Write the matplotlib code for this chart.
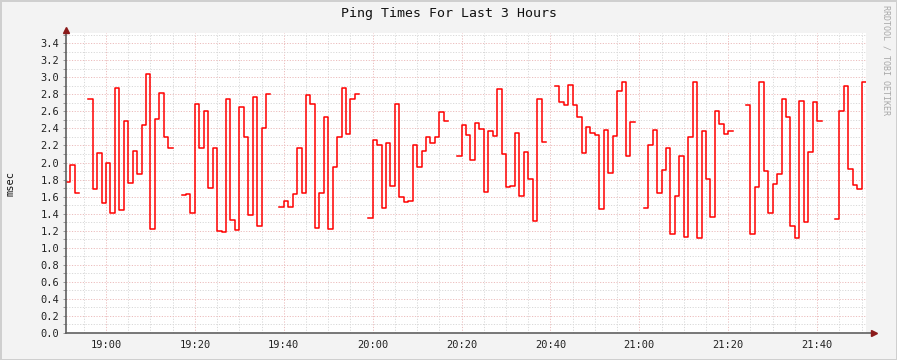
import matplotlib
matplotlib.use("Agg")
import matplotlib.pyplot as plt
import numpy as np

nan = np.nan

# one value per minute, starting 18:51
ping_msec = [
    1.77, 1.97, 1.64, nan, nan, 2.75, 1.69, 2.11, 1.53, 2.00,
    1.41, 2.88, 1.44, 2.49, 1.76, 2.13, 1.86, 2.44, 3.04, 1.22,
    2.51, 2.82, 2.30, 2.17, nan, nan, 1.62, 1.63, 1.41, 2.69,
    2.17, 2.61, 1.70, 2.17, 1.20, 1.19, 2.75, 1.33, 1.21, 2.65,
    2.30, 1.39, 2.77, 1.25, 2.41, 2.81, nan, nan, 1.48, 1.55,
    1.48, 1.63, 2.17, 1.64, 2.79, 2.69, 1.23, 1.64, 2.53, 1.22,
    1.95, 2.30, 2.87, 2.34, 2.74, 2.81, nan, nan, 1.35, 2.27,
    2.20, 1.47, 2.23, 1.72, 2.69, 1.60, 1.54, 1.55, 2.21, 1.95,
    2.14, 2.30, 2.23, 2.30, 2.59, 2.49, nan, nan, 2.08, 2.44,
    2.32, 2.03, 2.46, 2.39, 1.65, 2.37, 2.31, 2.86, 2.10, 1.71,
    1.72, 2.35, 1.61, 2.12, 1.81, 1.32, 2.74, 2.24, nan, nan,
    2.90, 2.71, 2.68, 2.91, 2.68, 2.53, 2.11, 2.42, 2.35, 2.32,
    1.46, 2.38, 1.88, 2.31, 2.84, 2.94, 2.08, 2.47, nan, nan,
    1.47, 2.21, 2.38, 1.64, 1.91, 2.17, 1.16, 1.61, 2.08, 1.13,
    2.30, 2.95, 1.12, 2.37, 1.81, 1.36, 2.60, 2.45, 2.34, 2.37,
    nan, nan, nan, 2.68, 1.16, 1.71, 2.94, 1.90, 1.41, 1.75,
    1.86, 2.75, 2.54, 1.25, 1.11, 2.72, 1.30, 2.12, 2.71, 2.49,
    nan, nan, nan, 1.34, 2.60, 2.90, 1.92, 1.74, 1.69, 2.94,
]
time_labels = ["19:00", "19:20", "19:40", "20:00", "20:20", "20:40", "21:00", "21:20", "21:40"]
label_minutes = [9, 29, 49, 69, 89, 109, 129, 149, 169]  # minutes after 18:51

mono = "DejaVu Sans Mono"
W, H = 897, 360
fig = plt.figure(figsize=(W / 100, H / 100), dpi=100)
fig.patch.set_facecolor("#f3f3f3")
fig.patch.set_edgecolor("#cfcfcf")
fig.patch.set_linewidth(2)

ax = fig.add_axes([66 / W, 27 / H, 800 / W, 300 / H])
ax.set_facecolor("white")

vals = np.array(ping_msec, dtype=float)
mins = np.arange(len(vals) + 1)
ax.step(mins, np.append(vals, vals[-1]), where="post", color="#ff0000", lw=1.1, zorder=3)

ax.set_xlim(0, 180)
ax.set_ylim(0, 3.52)

# grid: minor gray, major reddish
for m in range(4, 180, 5):
    major = (m - 9) % 20 == 0
    ax.axvline(m, color="#ecbcbc" if major else "#d8d8d8", lw=0.7,
               dashes=(1.2, 1.6), zorder=1)
for k in range(1, 36):
    y = k / 10
    major = k % 2 == 0
    ax.axhline(y, color="#ecbcbc" if major else "#d8d8d8", lw=0.7,
               dashes=(1.2, 1.6), zorder=1)

ax.set_xticks(label_minutes)
ax.set_xticklabels(time_labels, fontfamily=mono, fontsize=7.5, color="#222222")
yt = np.arange(0, 3.41, 0.2)
ax.set_yticks(yt)
ax.set_yticklabels([f"{v:.1f}" for v in yt], fontfamily=mono, fontsize=7.5, color="#222222")
ax.set_yticks(np.arange(0, 3.51, 0.1), minor=True)
ax.set_xticks(range(4, 180, 5), minor=True)
ax.tick_params(axis="both", which="both", length=2, width=0.6, color="#888888", pad=3)
ax.tick_params(axis="x", which="both", length=0, pad=5)

for s in ax.spines.values():
    s.set_visible(False)

# axes with arrow heads
ax.plot([0, 0], [0, 1.005], transform=ax.transAxes, color="#606060", lw=1.2, clip_on=False, zorder=4)
ax.plot([0, 1.008], [0, 0], transform=ax.transAxes, color="#606060", lw=1.2, clip_on=False, zorder=4)
ax.plot([0], [1.01], transform=ax.transAxes, marker="^", ms=4, color="#8b1a1a", clip_on=False, zorder=5)
ax.plot([1.01], [0], transform=ax.transAxes, marker=">", ms=4, color="#8b1a1a", clip_on=False, zorder=5)

fig.text(0.5, 1 - 14 / H, "Ping Times For Last 3 Hours", ha="center", va="center",
         fontfamily=mono, fontsize=9.5, color="#111111")
fig.text(11 / W, 1 - 183 / H, "msec", rotation=90, ha="center", va="center",
         fontfamily=mono, fontsize=7.5, color="#111111")
fig.text(886 / W, 1 - 60 / H, "RRDTOOL / TOBI OETIKER", rotation=-90, ha="center", va="center",
         fontfamily=mono, fontsize=6, color="#a8a8a8")

fig.savefig("out.png", dpi=100, facecolor=fig.get_facecolor(), edgecolor=fig.get_edgecolor())
